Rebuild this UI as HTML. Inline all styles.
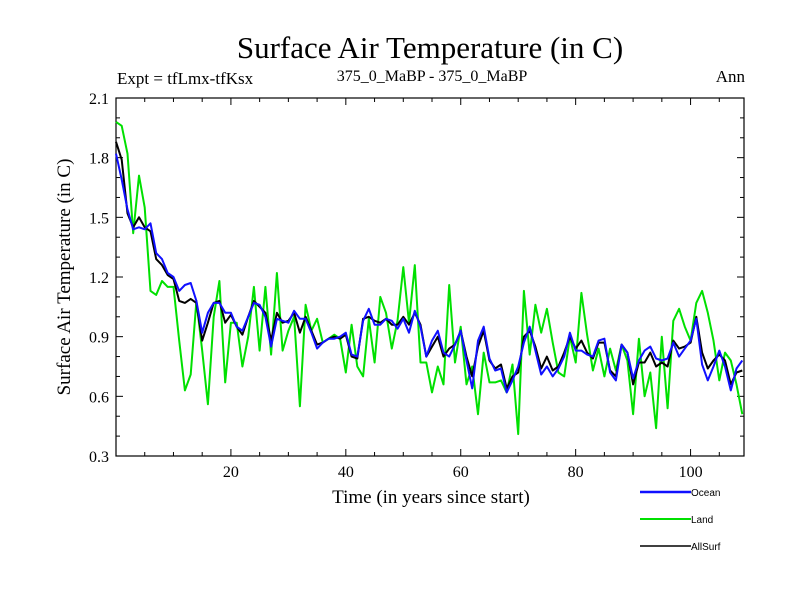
<!DOCTYPE html>
<html><head><meta charset="utf-8"><style>
body{margin:0;background:#fff;width:800px;height:600px;overflow:hidden}
svg text{font-family:"Liberation Serif",serif}
</style></head><body>
<svg id="chart" width="800" height="600" xmlns="http://www.w3.org/2000/svg">
<text x="430" y="58" font-size="31" text-anchor="middle">Surface Air Temperature (in C)</text>
<text x="117" y="84" font-size="17">Expt = tfLmx-tfKsx</text>
<text x="432" y="81" font-size="16" text-anchor="middle">375_0_MaBP - 375_0_MaBP</text>
<text x="745" y="82" font-size="17" text-anchor="end">Ann</text>
<text transform="translate(70,277) rotate(-90)" font-size="19" text-anchor="middle">Surface Air Temperature (in C)</text>
<text x="431" y="503" font-size="19" text-anchor="middle">Time (in years since start)</text>
<g id="axes"></g>
<g id="plot"></g>
<g id="legend"></g>
</svg>
<script>
const years = Array.from({length:110},(_, i)=>i);
const ocean = [1.82,1.69,1.54,1.44,1.45,1.44,1.47,1.32,1.29,1.22,1.20,1.13,1.16,1.17,1.08,0.92,1.02,1.07,1.07,1.02,1.02,0.95,0.93,1.0,1.07,1.06,1.0,0.85,0.99,0.98,0.97,1.03,0.99,0.99,0.92,0.84,0.87,0.89,0.89,0.90,0.92,0.81,0.80,0.98,1.04,0.96,0.96,0.99,0.98,0.94,0.99,0.92,1.03,0.95,0.80,0.88,0.93,0.82,0.80,0.86,0.93,0.78,0.64,0.88,0.95,0.79,0.73,0.74,0.62,0.68,0.75,
0.87,0.95,0.83,0.71,0.75,0.70,0.74,0.80,0.92,0.83,0.83,0.81,0.80,0.88,0.89,0.72,0.68,0.86,0.82,0.69,0.78,0.83,0.85,0.79,0.78,0.79,0.87,0.80,0.84,0.88,0.99,0.76,0.68,0.75,0.83,0.75,0.63,0.74,0.78];
const land = [1.98,1.96,1.82,1.42,1.71,1.55,1.13,1.11,1.18,1.15,1.15,0.88,0.63,0.71,1.08,0.83,0.56,1.0,1.18,0.67,0.97,0.97,0.75,0.90,1.15,0.83,1.15,0.81,1.22,0.83,0.93,1.0,0.55,1.06,0.93,0.99,0.87,0.89,0.91,0.89,0.72,0.96,0.75,0.70,0.99,0.77,1.10,1.02,0.84,0.98,1.25,0.97,1.26,0.77,0.77,0.62,0.75,0.66,1.16,0.77,0.95,0.66,0.75,0.51,0.82,0.67,0.67,0.68,0.62,0.76,0.41,
1.13,0.81,1.06,0.92,1.04,0.87,0.72,0.70,0.90,0.77,1.12,0.91,0.73,0.84,0.70,0.84,0.73,0.86,0.78,0.51,0.89,0.60,0.72,0.44,0.90,0.54,0.98,1.04,0.95,0.88,1.07,1.13,1.02,0.88,0.68,0.82,0.78,0.66,0.51];
const allsurf = [1.88,1.79,1.52,1.45,1.50,1.45,1.43,1.29,1.26,1.21,1.19,1.08,1.07,1.09,1.07,0.88,0.97,1.07,1.08,0.97,1.01,0.95,0.91,1.0,1.08,1.05,1.02,0.88,1.02,0.97,0.98,1.02,0.92,1.0,0.93,0.86,0.87,0.89,0.90,0.89,0.91,0.80,0.79,0.99,1.0,0.98,0.97,0.99,0.96,0.96,1.0,0.96,1.02,0.96,0.80,0.85,0.90,0.80,0.84,0.86,0.93,0.80,0.70,0.85,0.93,0.78,0.74,0.76,0.64,0.70,0.72,
0.90,0.93,0.85,0.74,0.80,0.73,0.75,0.82,0.90,0.84,0.88,0.82,0.79,0.87,0.87,0.73,0.70,0.86,0.82,0.66,0.77,0.77,0.82,0.75,0.77,0.75,0.88,0.84,0.85,0.87,1.00,0.82,0.74,0.78,0.81,0.78,0.66,0.72,0.73];
const yTicks = [0.3,0.6,0.9,1.2,1.5,1.8,2.1];
const yTickLabels = ["0.3","0.6","0.9","1.2","1.5","1.8","2.1"];
const xTicks = [20,40,60,80,100];
const xTickLabels = ["20","40","60","80","100"];

const L=116,R=744,T=98,B=456, XMIN=0, XMAX=109.3, YMIN=0.3, YMAX=2.1;
const sx=v=>L+(v-XMIN)/(XMAX-XMIN)*(R-L);
const sy=v=>B-(v-YMIN)/(YMAX-YMIN)*(B-T);
const NS="http://www.w3.org/2000/svg";
function mk(tag,attrs,parent){const e=document.createElementNS(NS,tag);for(const k in attrs)e.setAttribute(k,attrs[k]);parent.appendChild(e);return e;}
const axes=document.getElementById('axes'), plot=document.getElementById('plot'), legend=document.getElementById('legend');
const frame=mk('rect',{x:L,y:T,width:R-L,height:B-T,fill:'none',stroke:'#000','stroke-width':1.2},axes);


for(let v=5;v<XMAX;v+=5){const x=sx(v);const len=(v%20===0)?7:4;
 mk('line',{x1:x,y1:B,x2:x,y2:B-len,stroke:'#000'},axes);
 mk('line',{x1:x,y1:T,x2:x,y2:T+len,stroke:'#000'},axes);}
for(let i=1;i<18;i++){const v=0.3+i*0.1;const y=sy(v);const len=(i%3===0)?7:4;
 mk('line',{x1:L,y1:y,x2:L+len,y2:y,stroke:'#000'},axes);
 mk('line',{x1:R,y1:y,x2:R-len,y2:y,stroke:'#000'},axes);}
xTicks.forEach((v,i)=>{const t=mk('text',{x:sx(v),y:B+21,'font-size':16,'text-anchor':'middle'},axes);t.textContent=xTickLabels[i];
 
 });
yTicks.forEach((v,i)=>{const t=mk('text',{x:L-7,y:sy(v)+6,'font-size':16,'text-anchor':'end'},axes);t.textContent=yTickLabels[i];
 
 });
function line(data,color,w,name){const d=data.map((v,i)=>(i?'L':'M')+sx(years[i]).toFixed(1)+','+sy(v).toFixed(1)).join('');
 const p=mk('path',{d:d,fill:'none',stroke:color,'stroke-width':w,'stroke-linejoin':'round'},plot);
 
 }
line(land,'#00e000',2,'land-line');
line(allsurf,'#000',2,'allsurf-line');
line(ocean,'#1010ff',2,'ocean-line');
[['Ocean','#1010ff',492,2.5],['Land','#00e000',519,2],['AllSurf','#000',546,1.5]].forEach(e=>{
 const g=mk('g',{},legend);
 
 
 mk('line',{x1:640,y1:e[2],x2:691,y2:e[2],stroke:e[1],'stroke-width':e[3]},g);
 const t=mk('text',{x:691,y:e[2]+4,'font-size':10,style:'font-family:"Liberation Sans",sans-serif'},g);t.textContent=e[0];});
</script>
</body></html>
